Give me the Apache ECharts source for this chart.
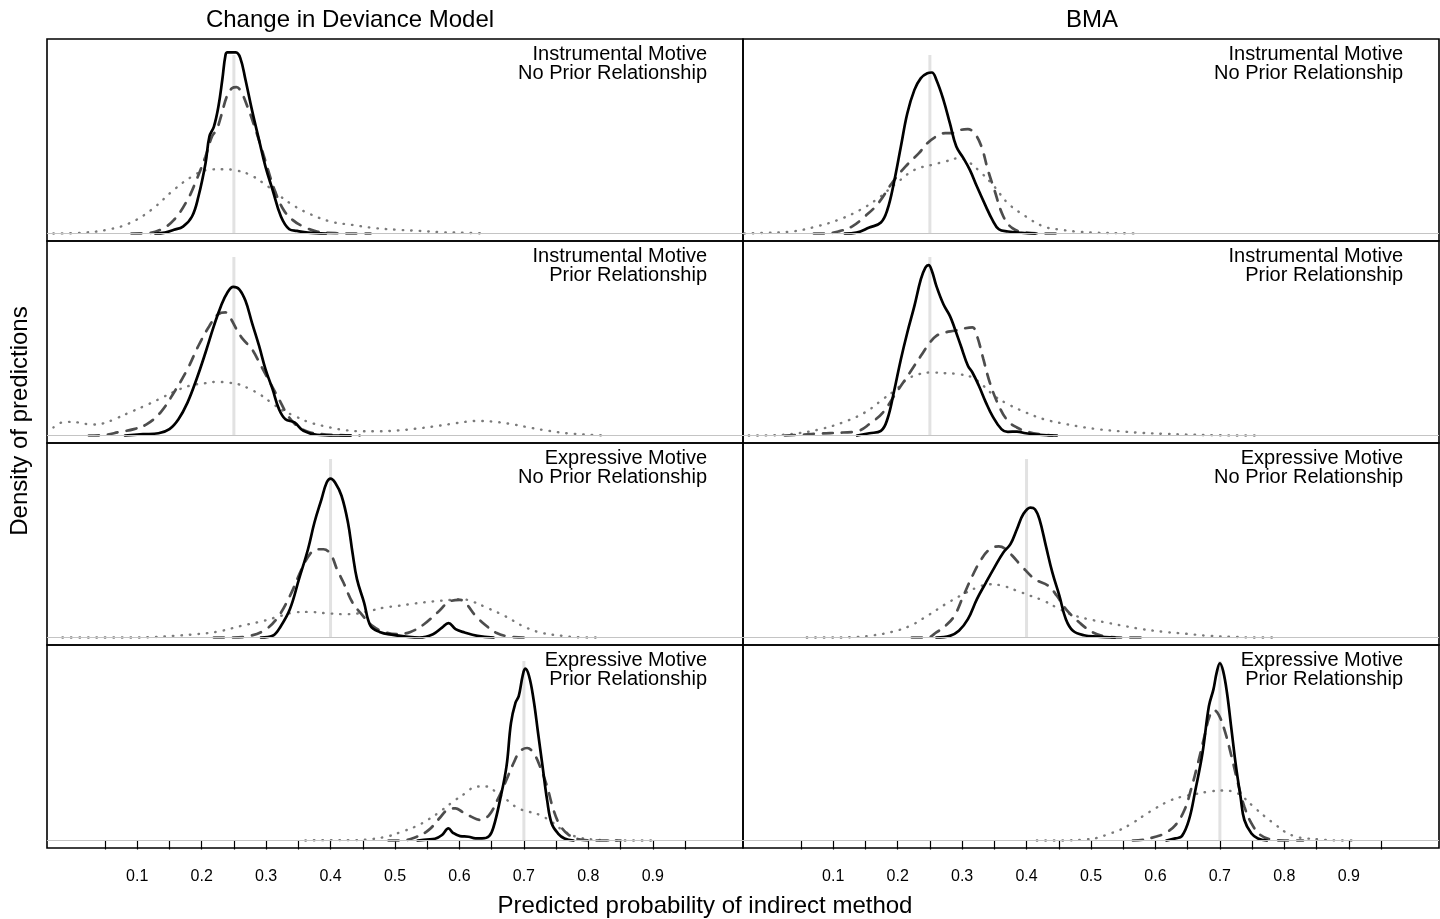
<!DOCTYPE html>
<html><head><meta charset="utf-8">
<script src="https://cdn.jsdelivr.net/npm/echarts@6/dist/echarts.min.js"></script>
<style>html,body{margin:0;padding:0;background:#fff}#c{width:1440px;height:919px}</style>
</head><body><div id="c"></div>
<script>
// ---------- text / categories ----------
const columnTitles = ['Change in Deviance Model', 'BMA'];
const rowLabels = [
  ['Instrumental Motive', 'No Prior Relationship'],
  ['Instrumental Motive', 'Prior Relationship'],
  ['Expressive Motive', 'No Prior Relationship'],
  ['Expressive Motive', 'Prior Relationship']
];
const xAxisTitle = 'Predicted probability of indirect method';
const yAxisTitle = 'Density of predictions';
const truthValues = [0.25, 0.25, 0.4, 0.7];
const truthLineTop = 95.5;
const tickValues = [0.05,0.1,0.15,0.2,0.25,0.3,0.35,0.4,0.45,0.5,0.55,0.6,0.65,0.7,0.75,0.8,0.85,0.9,0.95];
const tickLabelValues = [0.1,0.2,0.3,0.4,0.5,0.6,0.7,0.8,0.9];

// ---------- density curves [x, density] ----------
// Change in Deviance Model, Instrumental / No Prior
const devR1Solid = [[0.128,0],[0.143,0.5],[0.157,2.0],[0.171,3.7],[0.185,9.1],[0.195,19.8],[0.206,37.6],[0.212,51.9],[0.219,57.2],[0.226,67.9],[0.232,82.2],[0.237,95.5],[0.240,96.8],[0.253,96.8],[0.260,93.8],[0.268,82.2],[0.278,66.1],[0.289,50.1],[0.299,35.8],[0.310,23.4],[0.323,9.1],[0.336,2.3],[0.348,1.4],[0.365,0.5],[0.393,0]];
const devR1Dashed = [[0.091,0],[0.115,0.2],[0.136,2.0],[0.157,7.3],[0.178,18.0],[0.192,28.7],[0.206,41.2],[0.216,51.9],[0.223,55.4],[0.230,62.6],[0.239,73.3],[0.247,77.7],[0.254,78.3],[0.261,75.9],[0.271,67.9],[0.282,57.2],[0.292,46.5],[0.303,34.0],[0.313,23.4],[0.327,12.7],[0.341,7.3],[0.358,3.7],[0.379,1.1],[0.407,0.2],[0.434,0],[0.462,0]];
const devR1Dotted = [[-0.030,0],[0.018,0.5],[0.053,2.0],[0.088,5.5],[0.122,12.7],[0.157,23.4],[0.185,30.5],[0.209,34.0],[0.233,34.4],[0.254,33.7],[0.275,31.4],[0.296,26.9],[0.316,21.6],[0.337,16.2],[0.365,10.9],[0.400,6.4],[0.434,4.6],[0.469,2.9],[0.504,2.0],[0.538,1.4],[0.573,0.7],[0.608,0.4],[0.642,0]];
// BMA, Instrumental / No Prior
const bmaR1Solid = [[0.118,0],[0.136,0.5],[0.156,3.2],[0.174,5.9],[0.184,12.7],[0.194,26.9],[0.205,46.5],[0.215,64.3],[0.226,76.8],[0.236,83.1],[0.246,85.7],[0.253,86.1],[0.260,82.2],[0.271,71.5],[0.281,59.0],[0.291,46.5],[0.302,40.3],[0.312,34.0],[0.323,25.1],[0.337,14.4],[0.347,7.3],[0.357,2.3],[0.371,1.1],[0.392,0.4],[0.413,0]];
const bmaR1Dashed = [[0.070,0],[0.087,0],[0.108,1.1],[0.129,3.7],[0.149,9.1],[0.170,16.2],[0.191,26.9],[0.212,35.8],[0.233,43.0],[0.246,48.3],[0.260,51.9],[0.274,53.7],[0.288,53.7],[0.298,55.4],[0.309,55.8],[0.319,53.7],[0.330,46.5],[0.340,34.0],[0.350,23.4],[0.364,9.1],[0.378,2.9],[0.399,0.5],[0.427,0],[0.447,0]];
const bmaR1Dotted = [[-0.038,0],[-0.003,0.4],[0.039,1.2],[0.073,3.7],[0.108,7.3],[0.142,12.7],[0.170,18.9],[0.198,26.9],[0.226,34.0],[0.253,36.7],[0.274,38.5],[0.295,40.3],[0.309,38.5],[0.330,32.3],[0.350,25.1],[0.371,16.2],[0.399,9.1],[0.427,3.7],[0.454,2.0],[0.482,0.9],[0.510,0.4],[0.544,0.2],[0.576,0]];
// Change in Deviance Model, Instrumental / Prior
const devR2Solid = [[0.081,0],[0.109,0.7],[0.133,1.2],[0.150,3.4],[0.164,8.7],[0.178,17.6],[0.192,30.1],[0.206,44.4],[0.219,58.6],[0.230,69.3],[0.240,76.5],[0.249,79.5],[0.258,78.3],[0.268,72.0],[0.278,60.4],[0.289,48.0],[0.299,35.5],[0.310,24.8],[0.320,14.1],[0.330,8.7],[0.344,7.0],[0.358,2.5],[0.379,0.4],[0.407,0],[0.431,0]];
const devR2Dashed = [[0.025,0],[0.046,0.2],[0.074,2.0],[0.095,3.4],[0.115,6.1],[0.136,12.3],[0.157,23.0],[0.178,35.5],[0.195,48.0],[0.212,58.6],[0.226,64.9],[0.237,65.8],[0.244,63.1],[0.254,56.9],[0.264,51.5],[0.278,46.2],[0.292,37.3],[0.306,28.3],[0.320,19.4],[0.334,10.5],[0.348,5.2],[0.365,2.0],[0.386,0.7],[0.413,0.2],[0.445,0]];
const devR2Dotted = [[-0.030,4.3],[-0.013,7.3],[0.008,7.0],[0.029,5.9],[0.046,6.4],[0.067,9.1],[0.088,12.3],[0.112,15.9],[0.136,19.8],[0.157,23.4],[0.181,26.6],[0.206,28.0],[0.223,28.7],[0.240,28.3],[0.258,27.3],[0.275,24.8],[0.292,21.6],[0.310,17.1],[0.327,13.2],[0.344,10.5],[0.365,7.3],[0.393,4.8],[0.420,3.0],[0.448,2.3],[0.476,2.3],[0.504,2.7],[0.531,3.6],[0.559,4.8],[0.587,6.2],[0.614,7.5],[0.630,7.8],[0.656,7.3],[0.684,5.9],[0.711,4.1],[0.739,2.5],[0.767,1.2],[0.802,0.4],[0.826,0]];
// BMA, Instrumental / Prior
const bmaR2Solid = [[0.137,0],[0.156,1.2],[0.174,2.5],[0.184,8.7],[0.194,23.0],[0.205,40.8],[0.215,55.1],[0.226,69.3],[0.236,83.6],[0.243,89.8],[0.248,91.1],[0.253,88.1],[0.260,80.0],[0.271,70.2],[0.281,64.0],[0.288,57.8],[0.298,48.0],[0.309,37.3],[0.316,33.7],[0.326,26.6],[0.337,17.6],[0.347,10.5],[0.361,3.4],[0.371,2.0],[0.385,2.1],[0.399,1.2],[0.420,0.4],[0.447,0]];
const bmaR2Dashed = [[0.025,0],[0.052,0.5],[0.080,1.1],[0.115,1.6],[0.139,2.5],[0.156,6.1],[0.177,12.3],[0.198,23.0],[0.219,33.7],[0.236,42.6],[0.250,49.7],[0.260,53.3],[0.274,55.1],[0.288,56.0],[0.302,57.2],[0.316,57.8],[0.323,53.3],[0.333,40.8],[0.343,28.3],[0.357,15.9],[0.371,7.8],[0.385,4.3],[0.402,2.0],[0.420,0.7],[0.440,0]];
const bmaR2Dotted = [[-0.031,0],[0.011,0.2],[0.045,1.2],[0.080,3.4],[0.115,7.0],[0.149,12.3],[0.177,19.4],[0.198,24.8],[0.215,30.1],[0.233,32.8],[0.253,33.7],[0.274,33.3],[0.295,32.8],[0.316,31.0],[0.333,26.6],[0.350,21.2],[0.371,16.8],[0.399,12.3],[0.427,8.7],[0.454,6.6],[0.482,4.8],[0.510,3.4],[0.544,2.3],[0.579,1.4],[0.614,0.9],[0.648,0.5],[0.690,0.2],[0.738,0],[0.756,0]];
// Change in Deviance Model, Expressive / No Prior
const devR3Solid = [[0.292,0],[0.310,0.9],[0.323,6.2],[0.337,15.2],[0.351,31.2],[0.365,47.2],[0.375,61.5],[0.386,74.0],[0.394,82.9],[0.400,85.0],[0.407,82.9],[0.417,75.8],[0.427,61.5],[0.434,45.5],[0.441,31.2],[0.452,18.7],[0.462,6.2],[0.476,3.0],[0.497,1.4],[0.517,0.5],[0.538,0],[0.559,1.8],[0.573,5.3],[0.583,7.7],[0.594,4.5],[0.608,2.7],[0.628,0.9],[0.653,0]];
const devR3Dashed = [[0.219,0],[0.247,0],[0.275,0.9],[0.296,3.6],[0.316,9.8],[0.337,22.3],[0.355,36.5],[0.368,44.6],[0.379,47.2],[0.389,47.2],[0.400,44.6],[0.410,36.5],[0.420,29.4],[0.434,18.7],[0.448,12.5],[0.465,6.2],[0.483,3.0],[0.504,1.8],[0.524,3.0],[0.545,7.1],[0.566,13.4],[0.587,19.6],[0.601,20.1],[0.611,17.8],[0.625,11.6],[0.642,6.2],[0.656,2.7],[0.677,0.5],[0.701,0]];
const devR3Dotted = [[-0.016,0],[0.018,0],[0.053,0],[0.088,0],[0.122,0.2],[0.157,0.9],[0.192,1.8],[0.226,3.2],[0.261,6.2],[0.296,8.9],[0.323,11.6],[0.344,13.4],[0.365,13.7],[0.393,13.0],[0.420,12.5],[0.441,12.8],[0.462,14.3],[0.483,16.0],[0.504,16.9],[0.531,18.2],[0.559,19.3],[0.587,20.1],[0.604,20.5],[0.621,19.1],[0.642,16.0],[0.670,11.6],[0.698,6.2],[0.725,2.7],[0.760,0.9],[0.781,0.2],[0.815,0]];
// BMA, Expressive / No Prior
const bmaR3Solid = [[0.260,0],[0.281,0.9],[0.295,3.6],[0.309,9.8],[0.323,20.5],[0.337,29.4],[0.350,37.4],[0.364,45.5],[0.375,49.9],[0.385,57.9],[0.395,66.0],[0.406,69.5],[0.413,68.6],[0.420,63.3],[0.430,49.0],[0.440,34.8],[0.451,22.3],[0.461,9.8],[0.472,3.6],[0.489,1.2],[0.510,0.5],[0.537,0]];
const bmaR3Dashed = [[0.222,0],[0.246,0],[0.260,2.7],[0.274,6.2],[0.288,11.6],[0.302,22.3],[0.316,33.0],[0.330,41.9],[0.343,47.2],[0.357,48.7],[0.368,47.2],[0.378,43.7],[0.392,38.3],[0.413,31.2],[0.434,27.6],[0.447,22.3],[0.461,15.2],[0.482,8.0],[0.503,2.7],[0.524,0.5],[0.551,0],[0.583,0]];
const bmaR3Dotted = [[0.059,0],[0.094,0],[0.129,0.2],[0.156,0.9],[0.191,3.0],[0.219,6.2],[0.246,11.6],[0.274,17.8],[0.302,23.2],[0.323,26.7],[0.343,28.5],[0.364,27.6],[0.385,25.0],[0.406,22.3],[0.427,19.6],[0.447,16.0],[0.468,12.5],[0.496,9.8],[0.524,8.0],[0.551,6.2],[0.579,4.5],[0.614,3.0],[0.648,2.0],[0.683,0.9],[0.718,0.4],[0.752,0],[0.787,0]];
// Change in Deviance Model, Expressive / Prior
const devR4Solid = [[0.535,0],[0.549,0.5],[0.562,0.9],[0.573,2.9],[0.583,6.4],[0.590,4.1],[0.601,2.3],[0.614,2.0],[0.625,1.1],[0.635,1.1],[0.646,2.3],[0.653,7.3],[0.663,21.6],[0.673,39.4],[0.680,62.6],[0.687,73.3],[0.692,76.8],[0.698,87.5],[0.702,91.4],[0.708,87.5],[0.715,75.0],[0.722,57.2],[0.729,39.4],[0.736,21.6],[0.743,9.1],[0.753,3.7],[0.763,1.1],[0.777,0]];
const devR4Dashed = [[0.490,0],[0.510,0],[0.531,1.6],[0.552,5.5],[0.569,11.8],[0.583,16.6],[0.594,17.1],[0.604,15.3],[0.618,12.7],[0.632,10.9],[0.646,13.5],[0.659,21.6],[0.673,32.3],[0.684,41.2],[0.694,47.4],[0.705,49.2],[0.715,46.5],[0.725,39.4],[0.736,28.7],[0.746,16.2],[0.756,8.2],[0.770,2.9],[0.788,0.5],[0.815,0],[0.850,0]];
const devR4Dotted = [[0.361,0],[0.400,0.2],[0.434,0.2],[0.462,0.7],[0.490,2.3],[0.510,4.6],[0.531,7.3],[0.552,11.2],[0.573,16.2],[0.594,21.6],[0.611,25.5],[0.625,28.7],[0.642,28.7],[0.659,25.1],[0.677,20.7],[0.691,17.1],[0.708,15.3],[0.725,13.5],[0.743,10.0],[0.760,5.5],[0.781,2.0],[0.808,0.5],[0.843,0],[0.871,0],[0.909,0]];
// BMA, Expressive / Prior
const bmaR4Solid = [[0.617,0],[0.631,1.1],[0.641,2.3],[0.652,10.9],[0.662,26.9],[0.673,46.5],[0.683,71.5],[0.690,80.4],[0.695,89.3],[0.700,94.3],[0.705,90.2],[0.711,78.6],[0.718,59.0],[0.725,39.4],[0.732,23.4],[0.738,10.9],[0.749,3.7],[0.759,1.1],[0.773,0]];
const bmaR4Dashed = [[0.565,0],[0.583,0.5],[0.600,2.0],[0.614,3.7],[0.631,8.2],[0.645,16.2],[0.655,26.9],[0.666,41.2],[0.676,55.4],[0.684,66.1],[0.691,69.3],[0.698,67.0],[0.707,59.0],[0.718,44.8],[0.728,30.5],[0.738,18.0],[0.749,9.1],[0.763,2.9],[0.780,0.5],[0.801,0],[0.829,0]];
const bmaR4Dotted = [[0.416,0],[0.454,0],[0.489,0.5],[0.510,1.4],[0.527,3.4],[0.544,5.5],[0.565,9.4],[0.583,13.5],[0.600,17.1],[0.621,21.0],[0.641,23.3],[0.662,24.7],[0.683,26.0],[0.704,26.6],[0.721,26.0],[0.735,23.3],[0.752,18.0],[0.770,12.7],[0.787,8.2],[0.801,4.6],[0.818,2.0],[0.835,1.1],[0.856,0.5],[0.884,0],[0.908,0]];

// ---------- panel assembly ----------
const panels = [
  {col:0,row:0,solid:devR1Solid,dashed:devR1Dashed,dotted:devR1Dotted},
  {col:1,row:0,solid:bmaR1Solid,dashed:bmaR1Dashed,dotted:bmaR1Dotted},
  {col:0,row:1,solid:devR2Solid,dashed:devR2Dashed,dotted:devR2Dotted},
  {col:1,row:1,solid:bmaR2Solid,dashed:bmaR2Dashed,dotted:bmaR2Dotted},
  {col:0,row:2,solid:devR3Solid,dashed:devR3Dashed,dotted:devR3Dotted},
  {col:1,row:2,solid:bmaR3Solid,dashed:bmaR3Dashed,dotted:bmaR3Dotted},
  {col:0,row:3,solid:devR4Solid,dashed:devR4Dashed,dotted:devR4Dotted},
  {col:1,row:3,solid:bmaR4Solid,dashed:bmaR4Dashed,dotted:bmaR4Dotted}
];

const FONT = '"Liberation Sans", Arial, Helvetica, sans-serif';
const colLeft = [47, 743];
const panelW = 696;
const rowTop = [39, 241, 443, 645];
const panelH = [202, 202, 202, 203];

const grids = [], xAxes = [], yAxes = [], series = [], graphics = [];
panels.forEach((p, i) => {
  const bottom = p.row === 3;
  grids.push({left: colLeft[p.col], top: rowTop[p.row], width: panelW, height: panelH[p.row],
    show: true, borderColor: '#000', borderWidth: 1.6, backgroundColor: 'transparent', containLabel: false});
  xAxes.push({gridIndex: i, type: 'value', min: -0.04, max: 1.04,
    axisLine: {show: false}, splitLine: {show: false},
    axisTick: {show: bottom, customValues: tickValues, length: 9, lineStyle: {color: '#000', width: 1.2}},
    axisLabel: {show: bottom, customValues: tickLabelValues, color: '#000', fontSize: 16, fontFamily: FONT,
      margin: 21, formatter: v => v.toFixed(1)}});
  yAxes.push({gridIndex: i, type: 'value', min: -4, max: 104, show: false});
  const t = truthValues[p.row];
  series.push({type: 'line', xAxisIndex: i, yAxisIndex: i, data: [[t, 0], [t, truthLineTop]],
    showSymbol: false, silent: true, z: 1, lineStyle: {color: '#e2e2e2', width: 3},
    markLine: {silent: true, symbol: 'none', animation: false, label: {show: false},
      lineStyle: {color: '#c4c4c4', width: 1, type: 'solid'}, data: [{yAxis: 0}]}});
  const common = {type: 'line', xAxisIndex: i, yAxisIndex: i, showSymbol: false, silent: true,
    smooth: 0.4};
  series.push(Object.assign({}, common, {name: 'dotted', data: p.dotted, z: 2,
    lineStyle: {color: '#7a7a7a', width: 2.4, type: [0.5, 8], cap: 'round'}}));
  series.push(Object.assign({}, common, {name: 'dashed', data: p.dashed, z: 3,
    lineStyle: {color: '#4d4d4d', width: 2.7, type: [10, 9], cap: 'round'}}));
  series.push(Object.assign({}, common, {name: 'solid', data: p.solid, z: 4,
    lineStyle: {color: '#000', width: 2.7, cap: 'round', join: 'round'}}));
  // panel label
  graphics.push({type: 'text', silent: true, z: 10,
    style: {text: rowLabels[p.row].join('\n'), x: colLeft[p.col] + panelW - 36, y: rowTop[p.row] + 6,
      align: 'right', verticalAlign: 'top', font: '20px ' + FONT, lineHeight: 19, fill: '#000'}});
});

// column titles & axis titles
graphics.push({type: 'text', silent: true, style: {text: columnTitles[0], x: 350, y: 20, align: 'center', verticalAlign: 'middle', font: '24px ' + FONT, fill: '#000'}});
graphics.push({type: 'text', silent: true, style: {text: columnTitles[1], x: 1092, y: 20, align: 'center', verticalAlign: 'middle', font: '24px ' + FONT, fill: '#000'}});
graphics.push({type: 'text', silent: true, style: {text: xAxisTitle, x: 705, y: 906, align: 'center', verticalAlign: 'middle', font: '24px ' + FONT, fill: '#000'}});
graphics.push({type: 'text', silent: true, rotation: Math.PI / 2, x: 20, y: 421,
  style: {text: yAxisTitle, x: 0, y: 0, align: 'center', verticalAlign: 'middle', font: '24px ' + FONT, fill: '#000'}});

const chart = echarts.init(document.getElementById('c'), null, {renderer: 'canvas'});
chart.setOption({animation: false, backgroundColor: '#fff', grid: grids, xAxis: xAxes, yAxis: yAxes, series: series, graphic: graphics});
</script>
</body></html>
